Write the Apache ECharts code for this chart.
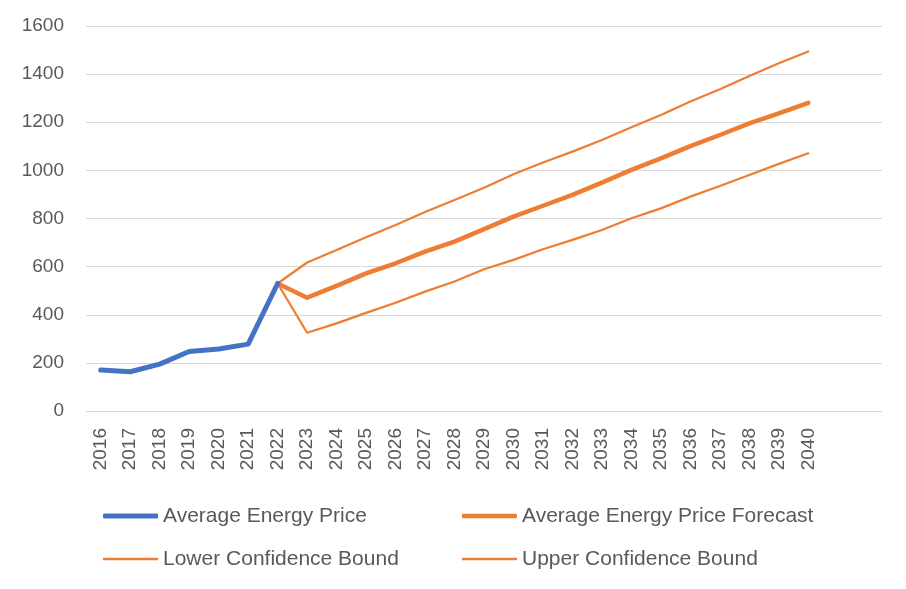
<!DOCTYPE html>
<html>
<head>
<meta charset="utf-8">
<script src="https://cdn.jsdelivr.net/npm/echarts@6/dist/echarts.min.js"></script>
<style>
  html, body { margin: 0; padding: 0; background: #fff; }
  #chart { width: 906px; height: 589px; }
</style>
</head>
<body>
<div id="chart"></div>
<script>
// categories (two blank slots at the end, as in the original sheet)
var years = ['2016', '2017', '2018', '2019', '2020', '2021', '2022', '2023', '2024', '2025',
  '2026', '2027', '2028', '2029', '2030', '2031', '2032', '2033', '2034', '2035',
  '2036', '2037', '2038', '2039', '2040', '', ''];

var actualPrice = [170, 163, 195, 247, 258, 278, 530];
var forecastPrice = [null, null, null, null, null, null, 530,
  471, 520, 572, 614, 662, 704, 756, 808, 853, 898, 949, 1002, 1050, 1101, 1147, 1195, 1237, 1281];
var lowerBound = [null, null, null, null, null, null, 530,
  325, 364, 408, 450, 496, 538, 589, 628, 672, 711, 752, 801, 842, 891, 935, 981, 1027, 1071];
var upperBound = [null, null, null, null, null, null, 530,
  617, 669, 722, 773, 827, 877, 928, 984, 1033, 1078, 1126, 1179, 1230, 1286, 1337, 1392, 1445, 1494];

var blue = '#4472C4';
var orange = '#ED7D31';
var textColor = '#595959';
var font = 'Liberation Sans';

var chart = echarts.init(document.getElementById('chart'), null, { renderer: 'canvas' });

// one legend per entry so the 2x2 layout sits where Excel put it
function legendAt(name, color, thick, left, top) {
  return {
    data: [{ name: name, icon: thick > 4 ? 'roundRect' : 'rect', itemStyle: { color: color } }],
    left: left,
    top: top,
    padding: 0,
    itemWidth: 55,
    itemHeight: thick,
    itemGap: 0,
    selectedMode: false,
    textStyle: { color: textColor, fontSize: 21, fontFamily: font, lineHeight: 24 }
  };
}

var option = {
  animation: false,
  backgroundColor: '#fff',
  grid: { left: 86, right: 24, top: 26, bottom: 178 },
  legend: [
    legendAt('Average Energy Price', blue, 5, 103, 504),
    legendAt('Average Energy Price Forecast', orange, 4.5, 462, 504),
    legendAt('Lower Confidence Bound', orange, 2.5, 103, 547),
    legendAt('Upper Confidence Bound', orange, 2.5, 462, 547)
  ],
  xAxis: {
    type: 'category',
    data: years,
    boundaryGap: true,
    axisLine: { lineStyle: { color: '#d9d9d9', width: 1 } },
    axisTick: { show: false },
    axisLabel: {
      rotate: 90,
      interval: 0,
      margin: 17,
      color: textColor,
      fontSize: 19,
      fontFamily: font
    }
  },
  yAxis: {
    type: 'value',
    min: 0,
    max: 1600,
    interval: 200,
    axisLine: { show: false },
    axisTick: { show: false },
    axisLabel: {
      color: textColor, fontSize: 19, fontFamily: font, margin: 22,
      formatter: function (v) { return String(v); }
    },
    splitLine: { lineStyle: { color: '#d9d9d9', width: 1 } }
  },
  series: [{
    name: 'Average Energy Price',
    type: 'line',
    data: actualPrice,
    symbol: 'none',
    lineStyle: { color: blue, width: 5, cap: 'round', join: 'round' },
    itemStyle: { color: blue },
    z: 4
  }, {
    name: 'Average Energy Price Forecast',
    type: 'line',
    data: forecastPrice,
    symbol: 'none',
    lineStyle: { color: orange, width: 4.5, cap: 'round', join: 'round' },
    itemStyle: { color: orange },
    z: 3
  }, {
    name: 'Lower Confidence Bound',
    type: 'line',
    data: lowerBound,
    symbol: 'none',
    lineStyle: { color: orange, width: 2.25, cap: 'round' },
    itemStyle: { color: orange },
    z: 2
  }, {
    name: 'Upper Confidence Bound',
    type: 'line',
    data: upperBound,
    symbol: 'none',
    lineStyle: { color: orange, width: 2.25, cap: 'round' },
    itemStyle: { color: orange },
    z: 2
  }]
};

chart.setOption(option);
</script>
</body>
</html>
